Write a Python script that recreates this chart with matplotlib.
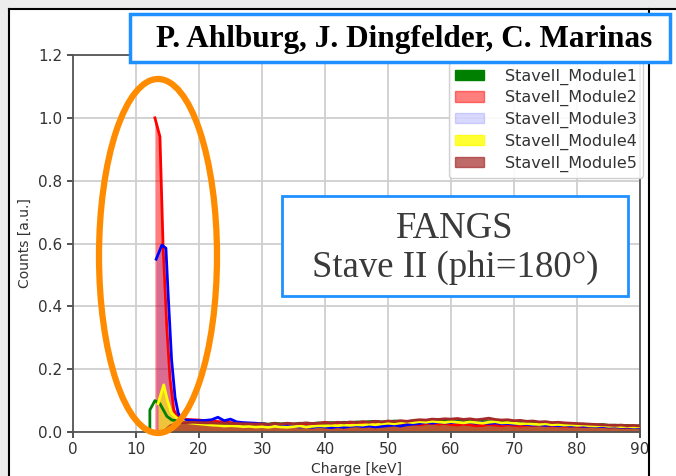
import matplotlib
matplotlib.use("Agg")
import matplotlib.pyplot as plt
from matplotlib.patches import Patch, Ellipse, Rectangle
from matplotlib.lines import Line2D

# ---------------- data ----------------
tail_x = list(range(18, 91))

m1_peak_x = [12.2, 12.2, 13.0, 13.8, 14.9, 15.7, 17.0]
m1_peak_y = [0.0, 0.07, 0.10, 0.09, 0.05, 0.038, 0.035]
m1_tail = [0.032, 0.030, 0.029, 0.028, 0.028, 0.026, 0.027, 0.025, 0.026, 0.024, 0.025, 0.024,
           0.027, 0.025, 0.028, 0.026, 0.027, 0.025, 0.028, 0.026, 0.027, 0.029,
           0.028, 0.030, 0.029, 0.031, 0.030, 0.032, 0.031, 0.033, 0.034, 0.032,
           0.033, 0.035, 0.034, 0.033, 0.035, 0.036, 0.034, 0.037, 0.035, 0.036,
           0.034, 0.036, 0.033, 0.035, 0.037, 0.034, 0.032, 0.033, 0.031, 0.034,
           0.032, 0.030, 0.031, 0.029, 0.028, 0.027, 0.026, 0.028, 0.025, 0.026,
           0.024, 0.025, 0.023, 0.022, 0.024, 0.021, 0.022, 0.020, 0.021, 0.019, 0.020]

m2_peak_x = [13.0, 13.8, 14.3, 14.9, 15.4, 16.0, 16.7, 17.3]
m2_peak_y = [1.0, 0.94, 0.59, 0.33, 0.17, 0.07, 0.045, 0.04]
m2_tail = [0.040, 0.039, 0.038, 0.036, 0.035, 0.033, 0.032, 0.030, 0.028, 0.027, 0.026, 0.025,
           0.024, 0.023, 0.025, 0.022, 0.026, 0.024, 0.023, 0.025, 0.024, 0.026,
           0.031, 0.027, 0.025, 0.024, 0.026, 0.025, 0.027, 0.024, 0.026, 0.025,
           0.028, 0.026, 0.024, 0.027, 0.025, 0.023, 0.026, 0.028, 0.025, 0.027,
           0.024, 0.022, 0.025, 0.023, 0.020, 0.021, 0.024, 0.022, 0.020, 0.023,
           0.021, 0.019, 0.022, 0.020, 0.023, 0.021, 0.019, 0.020, 0.018, 0.019,
           0.018, 0.017, 0.019, 0.016, 0.018, 0.015, 0.017, 0.016, 0.015, 0.016, 0.015]

m3_peak_x = [13.2, 14.1, 14.75, 15.1, 15.65, 16.2, 16.7, 17.3]
m3_peak_y = [0.55, 0.595, 0.585, 0.44, 0.23, 0.11, 0.06, 0.04]
m3_tail = [0.038, 0.037, 0.036, 0.037, 0.039, 0.047, 0.036, 0.041, 0.032, 0.030, 0.029, 0.028,
           0.026, 0.024, 0.022, 0.021, 0.020, 0.018, 0.016, 0.017, 0.015, 0.018,
           0.016, 0.014, 0.017, 0.015, 0.018, 0.020, 0.017, 0.019, 0.016, 0.018,
           0.020, 0.022, 0.019, 0.023, 0.025, 0.027, 0.030, 0.028, 0.031, 0.029,
           0.030, 0.032, 0.029, 0.031, 0.028, 0.030, 0.027, 0.029, 0.026, 0.027,
           0.025, 0.026, 0.024, 0.022, 0.023, 0.021, 0.022, 0.020, 0.021, 0.019,
           0.020, 0.018, 0.019, 0.017, 0.018, 0.016, 0.017, 0.015, 0.016, 0.014, 0.015]

m4_peak_x = [13.5, 14.4, 15.0, 15.65, 16.45, 17.3]
m4_peak_y = [0.09, 0.15, 0.10, 0.06, 0.045, 0.035]
m4_tail = [0.030, 0.028, 0.026, 0.024, 0.022, 0.021, 0.019, 0.020, 0.019, 0.017, 0.018, 0.016,
           0.017, 0.015, 0.018, 0.016, 0.015, 0.017, 0.019, 0.016, 0.018, 0.020,
           0.019, 0.021, 0.020, 0.022, 0.021, 0.023, 0.022, 0.025, 0.023, 0.026,
           0.028, 0.026, 0.029, 0.032, 0.030, 0.033, 0.031, 0.034, 0.032, 0.030,
           0.033, 0.031, 0.029, 0.032, 0.030, 0.028, 0.031, 0.033, 0.029, 0.030,
           0.028, 0.026, 0.027, 0.025, 0.024, 0.026, 0.023, 0.024, 0.022, 0.023,
           0.021, 0.022, 0.020, 0.019, 0.021, 0.018, 0.019, 0.017, 0.018, 0.016, 0.017]

m5_peak_x = [14.3, 15.5, 17.0]
m5_peak_y = [0.0, 0.02, 0.03]
m5_tail = [0.030, 0.031, 0.030, 0.029, 0.029, 0.028, 0.028, 0.027, 0.027, 0.026, 0.026, 0.025,
           0.026, 0.024, 0.027, 0.025, 0.028, 0.026, 0.027, 0.029, 0.027, 0.028,
           0.030, 0.028, 0.031, 0.029, 0.032, 0.030, 0.033, 0.031, 0.034, 0.032,
           0.035, 0.033, 0.036, 0.034, 0.037, 0.039, 0.038, 0.041, 0.040, 0.042,
           0.041, 0.043, 0.040, 0.042, 0.039, 0.041, 0.044, 0.040, 0.038, 0.039,
           0.036, 0.037, 0.034, 0.035, 0.032, 0.033, 0.030, 0.031, 0.029, 0.028,
           0.027, 0.026, 0.025, 0.024, 0.023, 0.022, 0.021, 0.022, 0.020, 0.021, 0.019]

labels = ["StaveII_Module1", "StaveII_Module2", "StaveII_Module3",
          "StaveII_Module4", "StaveII_Module5"]
x_ticks = [0, 10, 20, 30, 40, 50, 60, 70, 80, 90]
y_ticks = [0.0, 0.2, 0.4, 0.6, 0.8, 1.0, 1.2]

# ---------------- figure ----------------
W, H = 676, 476
fig = plt.figure(figsize=(W / 100, H / 100), dpi=100)
fig.patch.set_facecolor("white")

def fx(px):
    return px / W

def fy(py):
    return 1 - py / H

ax = fig.add_axes([fx(73), fy(432), fx(640) - fx(73), fy(55) - fy(432)])

series = [
    (m1_peak_x, m1_peak_y, m1_tail, "green", None, 0.0),
    (m2_peak_x, m2_peak_y, m2_tail, "red", "red", 0.5),
    (m3_peak_x, m3_peak_y, m3_tail, "blue", "blue", 0.15),
    (m4_peak_x, m4_peak_y, m4_tail, "yellow", "yellow", 0.6),
    (m5_peak_x, m5_peak_y, m5_tail, "brown", "brown", 0.7),
]

for px_, py_, tail, lc, fc, a in series:
    xs = px_ + tail_x
    ys = py_ + tail
    if fc is not None:
        ax.fill_between(xs, ys, 0, color=fc, alpha=a, linewidth=0, zorder=2)
for px_, py_, tail, lc, fc, a in series:
    xs = px_ + tail_x
    ys = py_ + tail
    ax.plot(xs, ys, color=lc, linewidth=2.0, zorder=3)

ax.set_xlim(0, 90)
ax.set_ylim(0, 1.2)
ax.set_xticks(x_ticks)
ax.set_yticks(y_ticks)
ax.set_yticklabels([f"{v:.1f}" for v in y_ticks])
ax.grid(True, color="#cfcfcf", linewidth=1.3, zorder=0)
ax.set_axisbelow(True)
for s in ax.spines.values():
    s.set_color("#555555")
    s.set_linewidth(1.3)
ax.tick_params(axis="both", labelsize=11, colors="#444444", length=4, width=1.3)
for lab in ax.get_xticklabels() + ax.get_yticklabels():
    lab.set_color("#333333")
ax.set_xlabel("Charge [keV]", fontsize=10, color="#333333", labelpad=3)
ax.set_ylabel("Counts [a.u.]", fontsize=10, color="#333333", labelpad=5)

handles = [
    Patch(facecolor="green", edgecolor="green", alpha=1.0),
    Patch(facecolor="red", edgecolor="red", alpha=0.5),
    Patch(facecolor="blue", edgecolor="blue", alpha=0.15),
    Patch(facecolor="yellow", edgecolor="yellow", alpha=0.8),
    Patch(facecolor="brown", edgecolor="brown", alpha=0.7),
]
leg = ax.legend(handles, labels, loc="upper right",
                bbox_to_anchor=(fx(643), fy(62)), bbox_transform=fig.transFigure,
                fontsize=11.5, frameon=True, fancybox=True, framealpha=0.9,
                edgecolor="#cccccc", borderaxespad=0, labelspacing=0.35,
                handlelength=1.8, handleheight=0.6, handletextpad=1.3, borderpad=0.4)
for t in leg.get_texts():
    t.set_color("#333333")
leg.set_zorder(5)

# screenshot frame
fig.add_artist(Rectangle((0, 0), fx(8), 1, transform=fig.transFigure,
                         facecolor="#ececec", edgecolor="none", zorder=0))
fig.add_artist(Rectangle((0, fy(8)), 1, 1 - fy(8), transform=fig.transFigure,
                         facecolor="#ececec", edgecolor="none", zorder=0))
fig.add_artist(Line2D([fx(8.5), fx(8.5)], [0, fy(8.5)], transform=fig.transFigure,
                      color="black", linewidth=1.5, zorder=1))
fig.add_artist(Line2D([fx(8.5), 1], [fy(8.5), fy(8.5)], transform=fig.transFigure,
                      color="black", linewidth=1.5, zorder=1))
fig.add_artist(Line2D([fx(649), fx(649)], [0, fy(8.5)], transform=fig.transFigure,
                      color="black", linewidth=1.5, zorder=1))

# orange ellipse annotation
fig.add_artist(Ellipse((fx(158), fy(256)), fx(118), 354 / H, transform=fig.transFigure,
                       facecolor="none", edgecolor="#ff8c00", linewidth=4.5, zorder=6))

# author box
fig.add_artist(Rectangle((fx(130), fy(62)), fx(670) - fx(130), fy(14) - fy(62),
                         transform=fig.transFigure, facecolor="white",
                         edgecolor="#1e90ff", linewidth=2.5, zorder=7))
fig.text(fx(404), fy(39), "P. Ahlburg, J. Dingfelder, C. Marinas",
         ha="center", va="center", fontsize=22.5, fontweight="bold",
         family="Liberation Serif", color="black", zorder=8)

# FANGS box
fig.add_artist(Rectangle((fx(282), fy(296)), fx(628) - fx(282), fy(196) - fy(296),
                         transform=fig.transFigure, facecolor="white",
                         edgecolor="#1e90ff", linewidth=2, zorder=7))
fig.text(fx(455), fy(229), "FANGS", ha="center", va="center", fontsize=26.5,
         family="Liberation Serif", color="#3a3a3a", zorder=8)
fig.text(fx(455), fy(268), "Stave II (phi=180°)", ha="center", va="center", fontsize=26.5,
         family="Liberation Serif", color="#3a3a3a", zorder=8)

fig.savefig("out.png", dpi=100)
